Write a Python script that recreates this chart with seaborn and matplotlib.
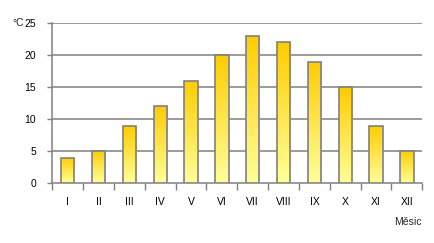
import numpy as np
import pandas as pd
import matplotlib
matplotlib.use("Agg")
import matplotlib.pyplot as plt
import seaborn as sns
from matplotlib.colors import LinearSegmentedColormap

months = ["I", "II", "III", "IV", "V", "VI", "VII", "VIII", "IX", "X", "XI", "XII"]
temps = [4, 5, 9, 12, 16, 20, 23, 22, 19, 15, 9, 5]
yticks = [0, 5, 10, 15, 20, 25]

sns.set_theme(style="white")
plt.rcParams['font.family'] = ['Liberation Sans', 'DejaVu Sans']

df = pd.DataFrame({"month": months, "temp": temps})

fig = plt.figure(figsize=(4.35, 2.43), dpi=100)
ax = fig.add_axes([52.3/435, 1-183.3/243, (422.3-52.3)/435, 160/243])

sns.barplot(data=df, x="month", y="temp", ax=ax, width=0.43,
            color="#FFEE66", edgecolor="#808080", linewidth=1.2, zorder=3)

cmap = LinearSegmentedColormap.from_list("g", ["#FFFF99", "#FFCC00"])
grad = np.linspace(0, 1, 256).reshape(-1, 1)
for p in ax.patches:
    x0, y0 = p.get_x(), p.get_y()
    w, h = p.get_width(), p.get_height()
    im = ax.imshow(grad, cmap=cmap, origin="lower", aspect="auto",
                   extent=[x0, x0 + w, y0, y0 + h], zorder=3.5)
    im.set_clip_path(p)
    p.set_facecolor("none")
    p.set_zorder(4)

ax.set_xlim(-0.5, 11.5)
ax.set_ylim(0, 25)
ax.set_yticks(yticks)
ax.set_xticks(range(len(months)))
ax.set_xticklabels(months)
ax.set_xticks(np.arange(-0.5, 12, 1), minor=True)
ax.tick_params(axis="x", which="major", length=0, pad=10, labelsize=7.5, colors="black")
ax.tick_params(axis="x", which="minor", length=5, width=1, color="#808080", direction="out", bottom=True)
ax.tick_params(axis="y", which="major", length=3.5, width=1, color="#808080", direction="out", left=True, pad=8, labelsize=7.5, labelcolor="black")

for y in yticks[1:]:
    ax.axhline(y, color="#808080", linewidth=1.1, zorder=1)

for s in ["top", "right"]:
    ax.spines[s].set_visible(False)
for s in ["left", "bottom"]:
    ax.spines[s].set_color("#808080")
    ax.spines[s].set_linewidth(1.1)

ax.set_xlabel("")
ax.set_ylabel("")
fig.text(12/435, 1-23/243, "°C", fontsize=7.5, ha="left", va="center")
fig.text(422/435, 1-222/243, "Měsic", fontsize=7.5, ha="right", va="center")

fig.savefig("out.png", dpi=100)
